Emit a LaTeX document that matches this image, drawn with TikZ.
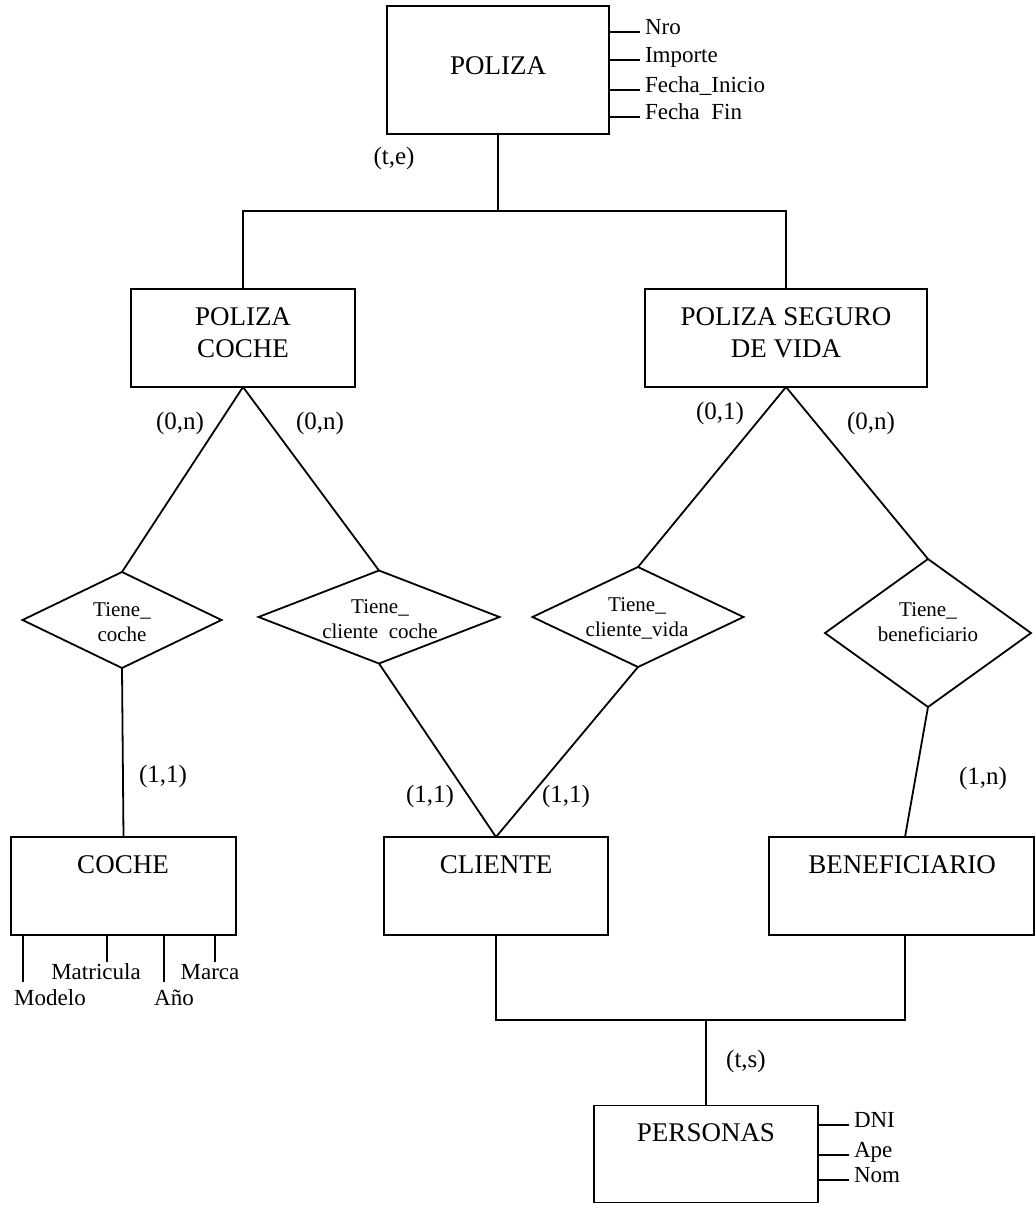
\documentclass[tikz,border=0pt]{standalone}
\usepackage{fontspec}
\setmainfont{Liberation Serif}
\usetikzlibrary{shapes.geometric}
\begin{document}
\begin{tikzpicture}[x=1pt,y=-1pt,
  ln/.style={line width=1.8pt},
  ent/.style={draw, line width=1.8pt, rectangle, inner sep=0pt, outer sep=0pt},
  enttext/.style={font=\fontsize{27}{32}\selectfont, align=center, inner sep=0pt},
  rel/.style={draw, diamond, line width=1.8pt, inner sep=0pt, outer sep=0pt, aspect=2},
  reltext/.style={font=\fontsize{21}{25}\selectfont, align=center, inner sep=0pt},
  attr/.style={font=\fontsize{23}{27}\selectfont, inner ysep=1.5pt, inner xsep=5pt, outer sep=0pt, text height=0.78em, text depth=0.2em},
  card/.style={font=\fontsize{25}{30}\selectfont, inner sep=0pt, text height=0.7em, text depth=0.2em}]
\useasboundingbox[fill=white] (0,0) rectangle (1036,1205);

% entities
\node[ent, minimum width=222, minimum height=128] (poliza) at (498,70) {};
\node[ent, minimum width=224, minimum height=98] (pc) at (243,338) {};
\node[ent, minimum width=282, minimum height=98] (ps) at (786,338) {};
\node[ent, minimum width=225, minimum height=98] (coche) at (123.5,886) {};
\node[ent, minimum width=224, minimum height=98] (cliente) at (496,886) {};
\node[ent, minimum width=265, minimum height=98] (benef) at (901.5,886) {};
\node[ent, minimum width=224, minimum height=97] (personas) at (706,1154) {};

\node[enttext] (polizaT) at (498,66) {POLIZA};
\node[enttext] (pcT) at (243,333) {POLIZA\\COCHE};
\node[enttext] (psT) at (786,333) {POLIZA SEGURO\\DE VIDA};
\node[enttext] (cocheT) at (123,865) {COCHE};
\node[enttext] (clienteT) at (496,865) {CLIENTE};
\node[enttext] (benefT) at (902,865) {BENEFICIARIO};
\node[enttext] (personasT) at (706,1133) {PERSONAS};

% relationships
\node[rel, minimum width=199, minimum height=96] (d1) at (122,620) {};
\node[rel, minimum width=241, minimum height=93] (d2) at (379,617) {};
\node[rel, minimum width=211, minimum height=100] (d3) at (638,617) {};
\node[rel, minimum width=206, minimum height=148] (d4) at (928,633) {};

\node[reltext] (d1T) at (122,622) {Tiene\_\\coche};
\node[reltext] (d2T) at (380,620) {Tiene\_\\cliente\phantom{\_}coche};
\node[reltext] (d3T) at (637,618) {Tiene\_\\cliente\_vida};
\node[reltext] (d4T) at (928,622) {Tiene\_\\beneficiario};

% hierarchy POLIZA
\coordinate (jt) at (498,211);
\draw[ln] (poliza.south) -- (jt);
\draw[ln] (pc.north) |- (jt) -| (ps.north);

% relationship connectors
\draw[ln] (pc.south) -- (d1.north);
\draw[ln] (pc.south) -- (d2.north);
\draw[ln] (ps.south) -- (d3.north);
\draw[ln] (ps.south) -- (d4.north);
\draw[ln] (d1.south) -- (coche.north);
\draw[ln] (d2.south) -- (cliente.north);
\draw[ln] (d3.south) -- (cliente.north);
\draw[ln] (d4.south) -- ([xshift=3.5pt]benef.north);

% hierarchy PERSONAS
\coordinate (jb) at (706,1020);
\draw[ln] (cliente.south) |- (jb) -| ([xshift=3.5pt]benef.south);
\draw[ln] (jb) -- (personas.north);

% POLIZA attributes
\node[attr, anchor=west] (nro) at (640,32) {Nro};
\node[attr, anchor=west] (imp) at (640,60) {Importe};
\node[attr, anchor=west] (fi) at (640,90) {Fecha\_Inicio};
\node[attr, anchor=west] (ff) at (640,117) {Fecha\phantom{\_}Fin};
\foreach \a in {nro,imp,fi,ff} \draw[ln] (\a.west) -- (\a.west -| poliza.east);

% PERSONAS attributes
\node[attr, anchor=west] (dni) at (849,1125) {DNI};
\node[attr, anchor=west] (ape) at (849,1155) {Ape};
\node[attr, anchor=west] (nom) at (849,1180) {Nom};
\foreach \a in {dni,ape,nom} \draw[ln] (\a.west) -- (\a.west -| personas.east);

% COCHE attributes
\node[attr] (matricula) at (96,977) {Matricula};
\node[attr] (marca) at (210,977) {Marca};
\node[attr] (modelo) at (50,1003) {Modelo};
\node[attr] (anio) at (174,1003) {Año};
\coordinate (c1) at (23,982);
\coordinate (c2) at (107,962);
\coordinate (c3) at (164,982);
\coordinate (c4) at (215,962);
\foreach \c in {c1,c2,c3,c4} \draw[ln] (\c) -- (\c |- coche.south);

% cardinalities
\node[card] (k1) at (394,162) {(t,e)};
\node[card] (k2) at (180,427) {(0,n)};
\node[card] (k3) at (320,427) {(0,n)};
\node[card] (k4) at (720,417) {(0,1)};
\node[card] (k5) at (871,427) {(0,n)};
\node[card] (k6) at (163,780) {(1,1)};
\node[card] (k7) at (430,800) {(1,1)};
\node[card] (k8) at (566,800) {(1,1)};
\node[card] (k9) at (983,782) {(1,n)};
\node[card] (k10) at (746,1065) {(t,s)};
\end{tikzpicture}
\end{document}
